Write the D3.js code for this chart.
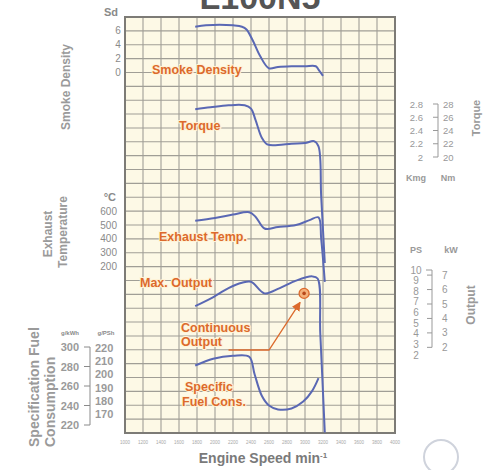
<!DOCTYPE html>
<html>
<head>
<meta charset="utf-8">
<script src="https://cdn.jsdelivr.net/npm/d3@7"></script>
<style>
  html, body { margin: 0; padding: 0; background: #ffffff; }
  svg { display: block; font-family: "Liberation Sans", Arial, sans-serif; }
</style>
</head>
<body>
<svg id="chart" width="483" height="470"></svg>
<script>
// ---- data ----
const speedTicks = [1000, 1200, 1400, 1600, 1800, 2000, 2200, 2400, 2600, 2800, 3000, 3200, 3400, 3600, 3800, 4000];

// smoke density (Sd)
const smokeRpm = [1780, 1900, 2050, 2200, 2300, 2350, 2420, 2500, 2600, 2700, 2850, 3000, 3120, 3150, 3200];
const smokeSd  = [6.6, 6.8, 6.9, 6.8, 6.6, 6.2, 4.6, 2.4, 0.6, 0.8, 0.9, 0.9, 0.9, 0.4, -0.5];

// torque (Nm)
const torqueRpm = [1780, 1950, 2150, 2330, 2400, 2450, 2520, 2580, 2700, 2850, 3000, 3100, 3150, 3180, 3220];
const torqueNm  = [27.2, 27.5, 27.8, 27.8, 27.3, 25.6, 22.9, 21.9, 21.8, 22.0, 22.1, 22.4, 21.6, 14.0, 4.0];

// exhaust temperature (°C)
const exhaustRpm  = [1780, 2000, 2200, 2380, 2450, 2550, 2700, 2900, 3050, 3150, 3180, 3220];
const exhaustTemp = [530, 550, 575, 592, 560, 475, 485, 500, 535, 555, 400, 90];

// max output (PS)
const outputRpm = [1780, 1950, 2150, 2300, 2400, 2550, 2720, 2900, 3080, 3140, 3170, 3220];
const outputPS  = [6.6, 7.3, 8.3, 8.8, 8.9, 7.8, 8.3, 9.0, 9.4, 9.2, 4.0, -5.3];

// continuous output point
const continuousRpm = 2990;
const continuousPS = 7.8;

// specific fuel consumption (g/kWh)
const fuelRpm = [1780, 1980, 2200, 2380, 2440, 2520, 2600, 2700, 2850, 2980, 3080, 3150];
const fuelGkWh = [281, 288, 291, 290, 272, 250, 240, 236, 237, 244, 255, 268];

// axis labels
const sdTicks = [6, 4, 2, 0];
const tempTicks = [600, 500, 400, 300, 200];
const fuelKwhTicks = [300, 280, 260, 240, 220];
const fuelPshTicks = [220, 210, 200, 190, 180, 170];
const torqueKgmTicks = [2.8, 2.6, 2.4, 2.2, 2];
const torqueNmTicks = [28, 26, 24, 22, 20];
const psTicks = [10, 9, 8, 7, 6, 5, 4, 3, 2];
const kwTicks = [7, 6, 5, 4, 3, 2];

// ---- layout ----
const svg = d3.select("#chart");
const plot = { left: 125, right: 395, top: 17, bottom: 433 };
const nRows = 30;

const x = d3.scaleLinear().domain([1000, 4000]).range([plot.left, plot.right]);
const row = d3.scaleLinear().domain([0, nRows]).range([plot.top, plot.bottom]);

const ySd = d3.scaleLinear().domain([8, 0]).range([row(0), row(4)]);
const yTemp = d3.scaleLinear().domain([600, 200]).range([row(14), row(18)]);
const yNm = d3.scaleLinear().domain([28, 20]).range([104, 157]);
const yPS = d3.scaleLinear().domain([10, 2]).range([270, 355]);
const yGkWh = d3.scaleLinear().domain([300, 220]).range([347, 425]);

const grey = "#8a8a8a";
const orange = "#dc6a2c";
const curveColor = "#5a68b4";

// ---- title ----
svg.append("text")
  .attr("x", 260).attr("y", 9)
  .attr("text-anchor", "middle")
  .attr("font-size", 34).attr("font-weight", "bold")
  .attr("fill", "#555")
  .text("L100N5");

// ---- grid ----
svg.append("rect")
  .attr("x", plot.left).attr("y", plot.top)
  .attr("width", plot.right - plot.left).attr("height", plot.bottom - plot.top)
  .attr("fill", "#fdf9e6");

const gridG = svg.append("g").attr("stroke", "#a09e96").attr("stroke-width", 1.1);
gridG.selectAll("line.v").data(speedTicks).join("line")
  .attr("x1", d => x(d)).attr("x2", d => x(d))
  .attr("y1", plot.top).attr("y2", plot.bottom);
gridG.selectAll("line.h").data(d3.range(nRows + 1)).join("line")
  .attr("x1", plot.left).attr("x2", plot.right)
  .attr("y1", d => row(d)).attr("y2", d => row(d));

svg.append("rect")
  .attr("x", plot.left).attr("y", plot.top)
  .attr("width", plot.right - plot.left).attr("height", plot.bottom - plot.top)
  .attr("fill", "none").attr("stroke", "#7d7b76").attr("stroke-width", 2);

// ---- x tick labels ----
svg.append("g").selectAll("text").data(speedTicks).join("text")
  .attr("x", d => x(d)).attr("y", 444)
  .attr("text-anchor", "middle")
  .attr("font-size", 4.5).attr("fill", "#a8a8a8")
  .text(d => d);

svg.append("text")
  .attr("x", 263).attr("y", 463)
  .attr("text-anchor", "middle")
  .attr("font-size", 14).attr("font-weight", "bold").attr("fill", "#7a7a7a")
  .text("Engine Speed  min")
  .append("tspan").attr("dy", -5).attr("font-size", 8).text("-1");

// ---- left axes ----
function rotLabel(text, cx, cy, size, anchor) {
  svg.append("text")
    .attr("transform", `translate(${cx},${cy}) rotate(-90)`)
    .attr("text-anchor", anchor || "middle")
    .attr("font-size", size).attr("font-weight", "bold").attr("fill", "#9a9a9a")
    .text(text);
}
rotLabel("Smoke Density", 70, 87, 12);
rotLabel("Exhaust", 52, 234, 12);
rotLabel("Temperature", 67, 232, 12);
rotLabel("Specification Fuel", 39, 447, 14, "start");
rotLabel("Consumption", 55, 447, 14, "start");

svg.append("text").attr("x", 118).attr("y", 16).attr("text-anchor", "end")
  .attr("font-size", 11).attr("font-weight", "bold").attr("fill", grey).text("Sd");
svg.append("g").selectAll("text").data(sdTicks).join("text")
  .attr("x", 118).attr("y", d => ySd(d) + 3.5).attr("text-anchor", "middle")
  .attr("font-size", 10).attr("fill", grey).text(d => d);

svg.append("text").attr("x", 116).attr("y", 201).attr("text-anchor", "end")
  .attr("font-size", 11).attr("font-weight", "bold").attr("fill", grey).text("°C");
svg.append("g").selectAll("text").data(tempTicks).join("text")
  .attr("x", 117).attr("y", d => yTemp(d) + 3.5).attr("text-anchor", "end")
  .attr("font-size", 10).attr("fill", grey).text(d => d);

// fuel consumption twin scale
const pshToKwh = v => v * 1.36;
svg.append("text").attr("x", 70).attr("y", 335).attr("text-anchor", "middle")
  .attr("font-size", 6).attr("font-weight", "bold").attr("fill", grey).text("g/kWh");
svg.append("text").attr("x", 106).attr("y", 335).attr("text-anchor", "middle")
  .attr("font-size", 6).attr("font-weight", "bold").attr("fill", grey).text("g/PSh");
svg.append("g").selectAll("text").data(fuelKwhTicks).join("text")
  .attr("x", 79).attr("y", d => yGkWh(d) + 4).attr("text-anchor", "end")
  .attr("font-size", 11).attr("font-weight", "bold").attr("fill", "#9a9a9a").text(d => d);
svg.append("g").selectAll("text").data(fuelPshTicks).join("text")
  .attr("x", 95).attr("y", d => yGkWh(pshToKwh(d)) + 4).attr("text-anchor", "start")
  .attr("font-size", 11).attr("font-weight", "bold").attr("fill", "#9a9a9a").text(d => d);
const fb = svg.append("g").attr("stroke", grey).attr("stroke-width", 1);
fb.append("line").attr("x1", 90).attr("x2", 90)
  .attr("y1", yGkWh(300)).attr("y2", yGkWh(220));
fb.selectAll("line.t").data(fuelKwhTicks).join("line")
  .attr("x1", 84).attr("x2", 90).attr("y1", d => yGkWh(d)).attr("y2", d => yGkWh(d));

// ---- right axes ----
svg.append("g").selectAll("text").data(torqueKgmTicks).join("text")
  .attr("x", 423).attr("y", d => yNm(d * 10) + 3.5).attr("text-anchor", "end")
  .attr("font-size", 9.5).attr("fill", "#999").text(d => d);
svg.append("g").selectAll("text").data(torqueNmTicks).join("text")
  .attr("x", 443).attr("y", d => yNm(d) + 3.5).attr("text-anchor", "start")
  .attr("font-size", 9.5).attr("fill", "#999").text(d => d);
const tb = svg.append("g").attr("stroke", "#999").attr("stroke-width", 1);
tb.append("line").attr("x1", 438).attr("x2", 438).attr("y1", yNm(28)).attr("y2", yNm(20));
tb.selectAll("line.t").data(torqueNmTicks).join("line")
  .attr("x1", 433).attr("x2", 438).attr("y1", d => yNm(d)).attr("y2", d => yNm(d));
svg.append("text").attr("x", 416).attr("y", 181).attr("text-anchor", "middle")
  .attr("font-size", 9).attr("font-weight", "bold").attr("fill", "#999").text("Kmg");
svg.append("text").attr("x", 448).attr("y", 181).attr("text-anchor", "middle")
  .attr("font-size", 9).attr("font-weight", "bold").attr("fill", "#999").text("Nm");
svg.append("text")
  .attr("transform", "translate(480,118) rotate(-90)")
  .attr("text-anchor", "middle").attr("font-size", 11).attr("font-weight", "bold")
  .attr("fill", "#9a9a9a").text("Torque");

const kwToPs = v => v * 1.36;
svg.append("text").attr("x", 416).attr("y", 253).attr("text-anchor", "middle")
  .attr("font-size", 9).attr("font-weight", "bold").attr("fill", "#999").text("PS");
svg.append("text").attr("x", 451).attr("y", 253).attr("text-anchor", "middle")
  .attr("font-size", 9).attr("font-weight", "bold").attr("fill", "#999").text("kW");
svg.append("g").selectAll("text").data(psTicks).join("text")
  .attr("x", 416).attr("y", d => yPS(d) + 3.5).attr("text-anchor", "middle")
  .attr("font-size", 10).attr("fill", "#999").text(d => d);
svg.append("g").selectAll("text").data(kwTicks).join("text")
  .attr("x", 442).attr("y", d => yPS(kwToPs(d)) + 3.5).attr("text-anchor", "start")
  .attr("font-size", 10).attr("fill", "#999").text(d => d);
const ob = svg.append("g").attr("stroke", "#999").attr("stroke-width", 1);
ob.append("line").attr("x1", 432).attr("x2", 432)
  .attr("y1", yPS(10)).attr("y2", yPS(kwToPs(2)));
ob.append("line").attr("x1", 426).attr("x2", 432).attr("y1", yPS(10)).attr("y2", yPS(10));
ob.selectAll("line.t").data(kwTicks).join("line")
  .attr("x1", 427).attr("x2", 432).attr("y1", d => yPS(kwToPs(d))).attr("y2", d => yPS(kwToPs(d)));
svg.append("text")
  .attr("transform", "translate(475,305) rotate(-90)")
  .attr("text-anchor", "middle").attr("font-size", 12).attr("font-weight", "bold")
  .attr("fill", "#9a9a9a").text("Output");

// ---- series labels ----
function seriesLabel(text, lx, ly) {
  svg.append("text")
    .attr("x", lx).attr("y", ly)
    .attr("font-size", 12.5).attr("font-weight", "bold")
    .attr("fill", orange)
    .attr("stroke", "#fff3d6").attr("stroke-width", 2).attr("paint-order", "stroke")
    .text(text);
}
seriesLabel("Smoke Density", 152, 74);
seriesLabel("Torque", 179, 130);
seriesLabel("Exhaust Temp.", 159, 241);
seriesLabel("Max. Output", 140, 287);
seriesLabel("Continuous", 181, 332);
seriesLabel("Output", 181, 346);
seriesLabel("Specific", 185, 391);
seriesLabel("Fuel Cons.", 182, 406);

// ---- curves ----
function drawCurve(rpms, vals, yScale) {
  svg.append("path")
    .datum(rpms.map((r, i) => [x(r), yScale(vals[i])]))
    .attr("d", d3.line().curve(d3.curveCatmullRom.alpha(0.5)))
    .attr("fill", "none")
    .attr("stroke", curveColor)
    .attr("stroke-width", 2)
    .attr("stroke-linejoin", "round");
}
drawCurve(smokeRpm, smokeSd, ySd);
drawCurve(torqueRpm, torqueNm, yNm);
drawCurve(exhaustRpm, exhaustTemp, yTemp);
drawCurve(outputRpm, outputPS, yPS);
drawCurve(fuelRpm, fuelGkWh, yGkWh);

// ---- continuous output marker and pointer ----
const cx = x(continuousRpm), cy = yPS(continuousPS);
svg.append("defs").append("marker")
  .attr("id", "arrow").attr("viewBox", "0 0 10 10")
  .attr("refX", 9).attr("refY", 5)
  .attr("markerWidth", 7).attr("markerHeight", 7)
  .attr("orient", "auto")
  .append("path").attr("d", "M0,0 L10,5 L0,10 Z").attr("fill", orange);
svg.append("polyline")
  .attr("points", `${x(2150)},350 ${x(2600)},350 ${cx - 4},${cy + 9}`)
  .attr("fill", "none").attr("stroke", orange).attr("stroke-width", 1.3)
  .attr("marker-end", "url(#arrow)");
svg.append("circle").attr("cx", cx).attr("cy", cy).attr("r", 5)
  .attr("fill", "#f3b07a").attr("stroke", orange).attr("stroke-width", 1.3);
svg.append("circle").attr("cx", cx).attr("cy", cy).attr("r", 1.8).attr("fill", "#b8481a");

// ---- emblem outline at lower right ----
svg.append("circle").attr("cx", 441).attr("cy", 457).attr("r", 17)
  .attr("fill", "none").attr("stroke", "#cfd3dc").attr("stroke-width", 2);
</script>
</body>
</html>
